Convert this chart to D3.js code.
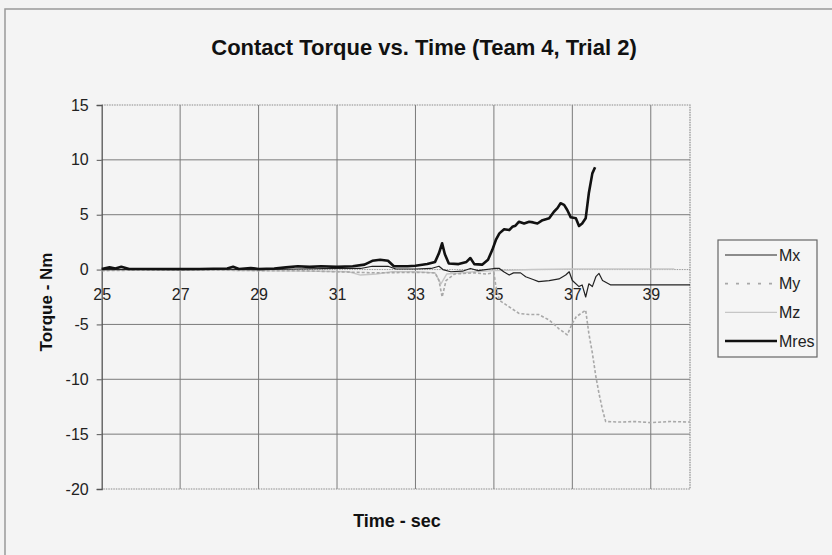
<!DOCTYPE html>
<html>
<head>
<meta charset="utf-8">
<script src="https://cdn.jsdelivr.net/npm/d3@7"></script>
<style>
  body { margin: 0; background: #f3f3f3; }
  svg { display: block; font-family: "Liberation Sans", Arial, sans-serif; }
</style>
</head>
<body>
<svg id="chart" width="832" height="555"></svg>
<script>
// data: [time sec, torque Nm]
const mx = [[25,0],[26,0.02],[27,0],[28,0.03],[29,0],[30,0.05],[31,0.1],[31.6,0.1],[31.9,0.3],[32.3,0.3],[32.5,0.05],[33,0.05],
  [33.4,0.1],[33.6,0.3],[33.7,0],[33.9,-0.2],[34.2,-0.15],[34.4,0.1],[34.6,-0.1],[35,0.1],[35.14,0.1],[35.25,-0.2],
  [35.39,-0.5],[35.5,-0.3],[35.68,-0.3],[35.81,-0.65],[36,-0.9],[36.14,-1.1],[36.41,-1.0],[36.66,-0.85],[36.83,-0.5],
  [36.92,-0.2],[37,-1.0],[37.17,-1.55],[37.25,-1.4],[37.34,-2.5],[37.42,-1.3],[37.51,-1.55],[37.6,-0.65],[37.68,-0.35],
  [37.77,-1.0],[37.98,-1.4],[40,-1.4]];

const my = [[25,-0.1],[26,-0.05],[27,-0.05],[28,-0.05],[29,-0.1],[30,-0.1],[31,-0.2],[32,-0.3],[33,-0.25],[33.5,-0.3],
  [33.6,-1.0],[33.68,-2.5],[33.78,-1.0],[34,-0.4],[34.5,-0.3],[34.8,-0.4],[35,-0.3],[35.05,-1.5],[35.14,-2.8],
  [35.39,-3.4],[35.64,-4.0],[35.9,-4.1],[36.14,-4.1],[36.41,-4.6],[36.66,-5.4],[36.87,-5.95],[37,-4.9],[37.1,-4.3],
  [37.34,-3.7],[37.42,-5.8],[37.51,-7.6],[37.6,-9.75],[37.68,-11.3],[37.77,-12.8],[37.85,-13.85],[38.2,-13.9],
  [38.6,-13.85],[39,-13.95],[39.5,-13.85],[40,-13.9]];

const mz = [[25,-0.05],[27,-0.05],[29,-0.1],[30.5,-0.15],[31.3,-0.2],[31.6,-0.5],[32,-0.4],[32.4,-0.2],[33,-0.2],
  [33.5,-0.3],[33.65,-1.3],[33.8,-0.4],[34.5,-0.2],[35,-0.1],[36,0],[37,0.05],[38,0.05],[39.6,0.05]];

const mres = [[25,0.05],[25.2,0.2],[25.35,0.1],[25.5,0.25],[25.7,0.05],[26.5,0.05],[27.5,0.05],[28.2,0.1],[28.35,0.25],
  [28.5,0.05],[28.8,0.15],[29,0.05],[29.4,0.1],[29.7,0.2],[30,0.3],[30.3,0.25],[30.6,0.3],[31,0.25],[31.4,0.3],
  [31.7,0.45],[31.9,0.8],[32.1,0.9],[32.3,0.8],[32.45,0.3],[32.8,0.3],[33,0.35],[33.3,0.5],[33.5,0.7],[33.6,1.5],
  [33.68,2.4],[33.75,1.4],[33.85,0.55],[34.1,0.5],[34.3,0.7],[34.4,1.05],[34.5,0.5],[34.7,0.45],[34.85,0.9],
  [34.96,1.8],[35.05,2.7],[35.14,3.3],[35.26,3.67],[35.39,3.6],[35.47,3.9],[35.55,4.0],[35.64,4.36],[35.77,4.2],
  [35.9,4.36],[36,4.3],[36.11,4.2],[36.24,4.5],[36.41,4.67],[36.53,5.27],[36.62,5.6],[36.7,6.04],[36.79,5.9],
  [36.87,5.43],[36.96,4.76],[37.09,4.67],[37.17,3.97],[37.25,4.2],[37.34,4.67],[37.42,6.95],[37.51,8.77],[37.58,9.32]];

const xTicks = [25, 27, 29, 31, 33, 35, 37, 39];
const yTicks = [-20, -15, -10, -5, 0, 5, 10, 15];
const seriesNames = ["Mx", "My", "Mz", "Mres"];

const styles = {
  Mx:   { color: "#222", width: 1.2, dash: null },
  My:   { color: "#a8a8a8", width: 1.6, dash: "3,2" },
  Mz:   { color: "#c6c6c6", width: 1.4, dash: null },
  Mres: { color: "#111", width: 2.6, dash: null }
};

const svg = d3.select("#chart");

// outer chart frame
svg.append("rect")
  .attr("x", 5).attr("y", 9).attr("width", 840).attr("height", 560)
  .attr("fill", "#f4f4f4").attr("stroke", "#999").attr("stroke-width", 1.5);

const plotL = 101.7, plotR = 690, plotT = 105, plotB = 489;

const x = d3.scaleLinear().domain([25, 40]).range([plotL, plotR]);
const y = d3.scaleLinear().domain([-20, 15]).range([plotB, plotT]);

// gridlines
svg.append("g").selectAll("line")
  .data(yTicks.filter(d => d !== 0 && d !== 15 && d !== -20))
  .join("line")
  .attr("x1", plotL).attr("x2", plotR)
  .attr("y1", d => y(d)).attr("y2", d => y(d))
  .attr("stroke", "#7a7a7a").attr("stroke-width", 1);

svg.append("g").selectAll("line")
  .data(xTicks.slice(1))
  .join("line")
  .attr("x1", d => x(d)).attr("x2", d => x(d))
  .attr("y1", plotT).attr("y2", plotB)
  .attr("stroke", "#7a7a7a").attr("stroke-width", 1);

// dotted plot border (top, right, bottom)
svg.append("path")
  .attr("d", `M${plotL},${plotT}H${plotR}V${plotB}H${plotL}`)
  .attr("fill", "none").attr("stroke", "#8a8a8a").attr("stroke-width", 1.2)
  .attr("stroke-dasharray", "1.5,1");

// x axis line at 0 (dotted, like the frame)
svg.append("line")
  .attr("x1", plotL).attr("x2", plotR)
  .attr("y1", y(0)).attr("y2", y(0))
  .attr("stroke", "#999").attr("stroke-width", 1)
  .attr("stroke-dasharray", "1.5,1");

// y axis
const yAxis = svg.append("g")
  .attr("transform", `translate(${plotL},0)`)
  .call(d3.axisLeft(y).tickValues(yTicks).tickSize(5).tickPadding(8).tickFormat(d => d));
yAxis.select(".domain").attr("stroke", "#555").attr("stroke-width", 1.3);
yAxis.selectAll(".tick line").attr("stroke", "#555");
yAxis.selectAll("text").attr("font-size", 16).attr("fill", "#222");

// x axis labels hang below the zero line
const xAxis = svg.append("g")
  .attr("transform", `translate(0,${y(0)})`)
  .call(d3.axisBottom(x).tickValues(xTicks).tickSize(0).tickPadding(19).tickFormat(d => d));
xAxis.select(".domain").remove();
xAxis.selectAll("text").attr("font-size", 16).attr("fill", "#222");

// lines
const line = d3.line().x(d => x(d[0])).y(d => y(d[1]));
const allSeries = { Mx: mx, My: my, Mz: mz, Mres: mres };

["Mz", "My", "Mx", "Mres"].forEach(name => {
  const s = styles[name];
  svg.append("path")
    .datum(allSeries[name])
    .attr("d", line)
    .attr("fill", "none")
    .attr("stroke", s.color)
    .attr("stroke-width", s.width)
    .attr("stroke-linejoin", "round")
    .attr("stroke-dasharray", s.dash);
});

// titles
svg.append("text")
  .attr("x", 424).attr("y", 55)
  .attr("text-anchor", "middle")
  .attr("font-size", 22).attr("font-weight", "bold").attr("fill", "#111")
  .text("Contact Torque vs. Time (Team 4, Trial 2)");

svg.append("text")
  .attr("x", 397).attr("y", 527)
  .attr("text-anchor", "middle")
  .attr("font-size", 18).attr("font-weight", "bold").attr("fill", "#111")
  .text("Time - sec");

svg.append("text")
  .attr("transform", "translate(52,302) rotate(-90)")
  .attr("text-anchor", "middle")
  .attr("font-size", 17).attr("font-weight", "bold").attr("fill", "#111")
  .text("Torque - Nm");

// legend
const legend = svg.append("g");
legend.append("rect")
  .attr("x", 718).attr("y", 240).attr("width", 99).attr("height", 117)
  .attr("fill", "#f5f5f5").attr("stroke", "#666").attr("stroke-width", 1.2);

const legendY = d3.scalePoint().domain(seriesNames).range([255, 341]);

const items = legend.selectAll("g.item")
  .data(seriesNames)
  .join("g")
  .attr("class", "item")
  .attr("transform", d => `translate(0,${legendY(d)})`);

items.append("line")
  .attr("x1", 725).attr("x2", 777)
  .attr("stroke", d => styles[d].color)
  .attr("stroke-width", d => styles[d].width)
  .attr("stroke-dasharray", d => styles[d].dash ? "3,8" : null);

items.append("text")
  .attr("x", 779).attr("dy", "0.35em")
  .attr("font-size", 16).attr("fill", "#222")
  .text(d => d);
</script>
</body>
</html>
